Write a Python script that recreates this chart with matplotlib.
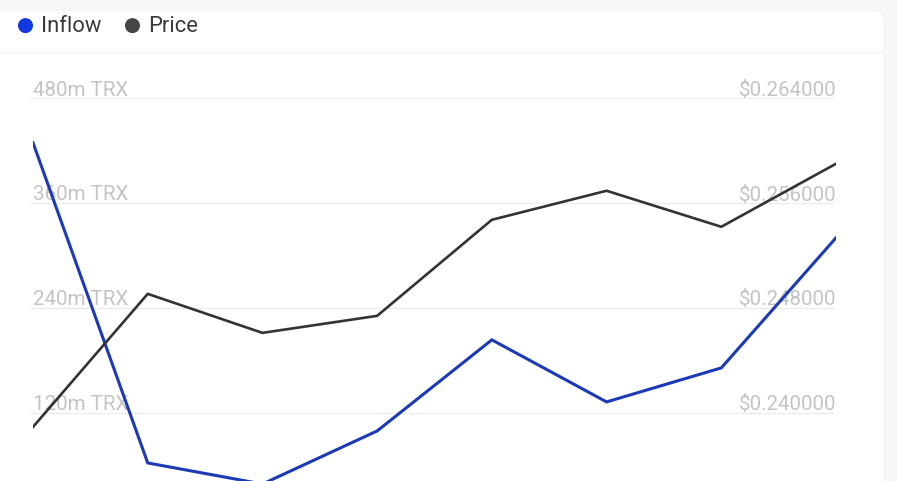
import numpy as np
import matplotlib
matplotlib.use("Agg")
import matplotlib.pyplot as plt
from matplotlib.patches import FancyBboxPatch, Circle

plt.rcParams['font.family'] = ['Roboto', 'DejaVu Sans']

# data (8 periods)
periods = np.arange(8)
inflow_m_trx = [429.1, 62.8, 38.7, 99.4, 203.6, 132.6, 171.5, 320.3]
price_usd = [0.238932, 0.249081, 0.246105, 0.247403, 0.254728, 0.256941, 0.254194, 0.259002]

inflow_ticks = [120, 240, 360, 480]
inflow_tick_labels = ['120m TRX', '240m TRX', '360m TRX', '480m TRX']
price_ticks = [0.240, 0.248, 0.256, 0.264]
price_tick_labels = ['$0.240000', '$0.248000', '$0.256000', '$0.264000']

W, H = 897, 481
fig = plt.figure(figsize=(W / 100, (H + 0.4) / 100), dpi=100)
fig.patch.set_facecolor('#f7f7f7')

# background card + legend header, in pixel units
bg = fig.add_axes([0, 0, 1, 1], zorder=0)
bg.set_xlim(0, W)
bg.set_ylim(H, 0)
bg.axis('off')
bg.add_patch(FancyBboxPatch((-20, 12), 903, 500, boxstyle='round,pad=0,rounding_size=8',
                            facecolor='white', edgecolor='none'))
bg.plot([0, 883], [52, 52], color='#f2f2f2', lw=1)
bg.add_patch(Circle((25.5, 26), 7.5, color='#1238e0', ec='none'))
bg.text(41, 26, 'Inflow', fontsize=15.8, color='#3a3a3a', va='center', ha='left')
bg.add_patch(Circle((132.5, 26), 7.5, color='#454545', ec='none'))
bg.text(148, 26, 'Price', fontsize=15.8, color='#3a3a3a', va='center', ha='left')

# chart axes
left, right = 33 / W, 836 / W
top_px = 60
ax = fig.add_axes([left, 0, right - left, (H - top_px) / H], zorder=1)
ax.patch.set_alpha(0)
ax2 = ax.twinx()
ax2.patch.set_alpha(0)

ax.set_xlim(0, 7)
ax.set_ylim(42.15, 524.07)
ax2.set_ylim(0.234811, 0.266938)

for a in (ax, ax2):
    for s in a.spines.values():
        s.set_visible(False)
    a.set_xticks([])
    a.set_yticks([])

label_color = '#c4c4c4'
ax.hlines(inflow_ticks, -0.03, 6.985, color='#ececec', lw=1, zorder=1, clip_on=False)
for v, lab in zip(inflow_ticks, inflow_tick_labels):
    ax.annotate(lab, (0, v), xytext=(0, 3), textcoords='offset pixels',
                fontsize=14.8, color=label_color, ha='left', va='baseline', zorder=2,
                annotation_clip=False)
for v, lab in zip(price_ticks, price_tick_labels):
    ax.annotate(lab, (7, v), xycoords=ax2.transData, xytext=(0, 3), textcoords='offset pixels',
                fontsize=14.8, color=label_color, ha='right', va='baseline', zorder=2,
                annotation_clip=False)

ax.plot(periods, inflow_m_trx, color='#1c3ab8', lw=2.2, zorder=3, solid_joinstyle='miter')
ax2.plot(periods, price_usd, color='#333333', lw=1.9, zorder=3, solid_joinstyle='miter')

fig.savefig('out.png', dpi=100, facecolor=fig.get_facecolor())
